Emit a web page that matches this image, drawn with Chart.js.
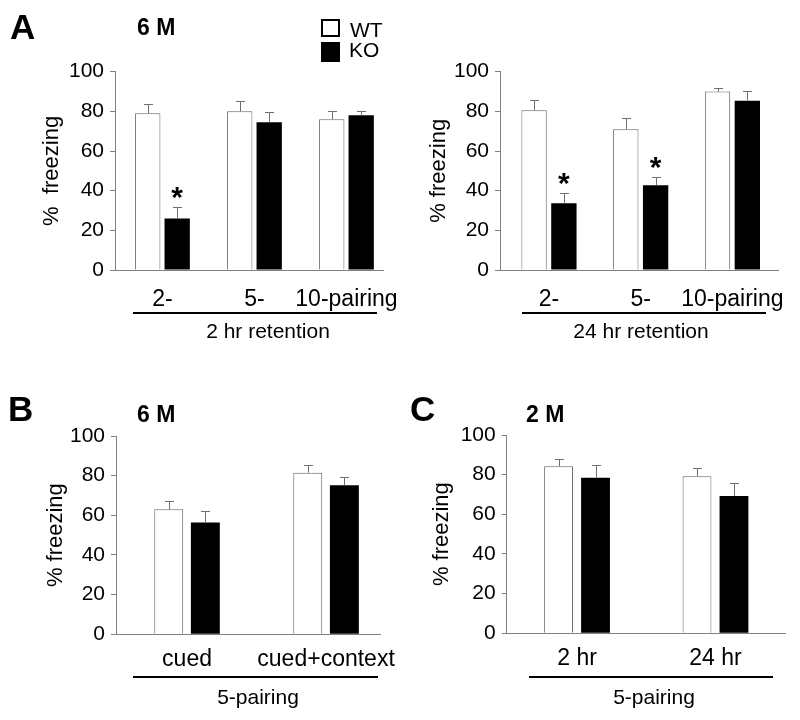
<!DOCTYPE html>
<html>
<head>
<meta charset="utf-8">
<script src="https://cdn.jsdelivr.net/npm/chart.js@4.4.0/dist/chart.umd.min.js"></script>
<style>
  body { margin: 0; background: #fff; width: 800px; height: 720px; position: relative; overflow: hidden;
         font-family: "Liberation Sans", Arial, sans-serif; color: #000; }
  canvas { position: absolute; }
  .t { position: absolute; line-height: 1; white-space: nowrap; }
  .c { transform: translateX(-50%); }
  .b { font-weight: bold; }
  .rule { position: absolute; height: 2px; background: #000; }
  .box { position: absolute; box-sizing: border-box; }
</style>
</head>
<body>
<canvas id="chartA2" width="400" height="340" style="left:0;top:0"></canvas>
<canvas id="chartA24" width="400" height="340" style="left:400px;top:0"></canvas>
<canvas id="chartB" width="400" height="360" style="left:0;top:360px"></canvas>
<canvas id="chartC" width="400" height="360" style="left:400px;top:360px"></canvas>

<!-- panel A -->
<div class="t b" style="left:10px;top:9px;font-size:35px">A</div>
<div class="t b" style="left:137px;top:15.5px;font-size:23px">6 M</div>
<div class="box" style="left:321px;top:19px;width:19px;height:18px;border:2px solid #000;background:#fff"></div>
<div class="box" style="left:321px;top:42px;width:19px;height:20px;background:#000"></div>
<div class="t" style="left:350px;top:18.5px;font-size:21px">WT</div>
<div class="t" style="left:349px;top:39px;font-size:21px">KO</div>
<div class="rule" style="left:133px;top:312px;width:244px"></div>
<div class="t c" style="left:268px;top:320px;font-size:21px">2 hr retention</div>
<div class="rule" style="left:522px;top:312px;width:244px"></div>
<div class="t c" style="left:641px;top:320px;font-size:21px">24 hr retention</div>

<!-- panel B -->
<div class="t b" style="left:8px;top:391px;font-size:35px">B</div>
<div class="t b" style="left:137px;top:402.5px;font-size:23px">6 M</div>
<div class="rule" style="left:133px;top:676px;width:245px"></div>
<div class="t c" style="left:258px;top:686px;font-size:21px">5-pairing</div>

<!-- panel C -->
<div class="t b" style="left:410px;top:391px;font-size:35px">C</div>
<div class="t b" style="left:526px;top:402.5px;font-size:23px">2 M</div>
<div class="rule" style="left:529px;top:676px;width:244px"></div>
<div class="t c" style="left:654px;top:686px;font-size:21px">5-pairing</div>

<script>
// ── Data ───────────────────────────────────────────────
const catsA = ["2-", "5-", "10-pairing"];
const wtA2 = [79, 80, 76];
const wtA2Err = [4.6, 5, 4];
const koA2 = [26, 74.5, 78];
const koA2Err = [5.8, 5.3, 2.3];
const sigA2 = [true, false, false];

const wtA24 = [80.5, 71, 90];
const wtA24Err = [5.3, 5.5, 1.8];
const koA24 = [33.7, 42.8, 85.4];
const koA24Err = [5, 4, 5];
const sigA24 = [true, true, false];

const catsB = ["cued", "cued+context"];
const wtB = [63, 81.5];
const wtBErr = [4, 3.7];
const koB = [56.4, 75.2];
const koBErr = [6, 3.9];

const catsC = ["2 hr", "24 hr"];
const wtC = [84.2, 79.2];
const wtCErr = [3.5, 4];
const koC = [78.5, 69.2];
const koCErr = [6.2, 6.7];

const yTicks = [0, 20, 40, 60, 80, 100];

Chart.defaults.font.family = '"Liberation Sans", Arial, sans-serif';
Chart.defaults.color = "#000";

const AXIS = "#808080";

// error bars (upper only) and significance stars
const errorBars = {
  id: "errorBars",
  afterDatasetsDraw(chart) {
    const { ctx, scales } = chart;
    const y = scales.y;
    ctx.save();
    chart.data.datasets.forEach((ds, di) => {
      const meta = chart.getDatasetMeta(di);
      meta.data.forEach((bar, i) => {
        const v = ds.data[i].y;
        const top = y.getPixelForValue(v + ds.errors[i]);
        const cx = Math.round(bar.x) + 0.5;
        ctx.strokeStyle = "#707070";
        ctx.lineWidth = 1;
        ctx.beginPath();
        ctx.moveTo(cx, bar.y);
        ctx.lineTo(cx, Math.round(top) + 0.5);
        ctx.moveTo(cx - 4.5, Math.round(top) + 0.5);
        ctx.lineTo(cx + 4.5, Math.round(top) + 0.5);
        ctx.stroke();
        if (ds.stars && ds.stars[i]) {
          ctx.fillStyle = "#000";
          ctx.font = 'bold 30px "Liberation Sans", Arial, sans-serif';
          ctx.textAlign = "center";
          ctx.textBaseline = "alphabetic";
          ctx.fillText("*", bar.x, top);
        }
      });
    });
    ctx.restore();
  },
};

function makePanel(id, cats, wt, wtErr, ko, koErr, sig, g) {
  const ctx = document.getElementById(id).getContext("2d");
  return new Chart(ctx, {
    type: "bar",
    data: {
      datasets: [
        {
          label: "WT",
          data: wt.map((v, i) => ({ x: i, y: v })),
          errors: wtErr,
          backgroundColor: "#fff",
          borderColor: "#666",
          borderWidth: 1,
          categoryPercentage: g.cat,
          barPercentage: g.bar,
        },
        {
          label: "KO",
          data: ko.map((v, i) => ({ x: i, y: v })),
          errors: koErr,
          stars: sig,
          backgroundColor: "#000",
          borderWidth: 0,
          categoryPercentage: g.cat,
          barPercentage: g.bar,
        },
      ],
    },
    options: {
      responsive: false,
      animation: false,
      devicePixelRatio: 1,
      layout: { padding: g.pad },
      plugins: { legend: { display: false }, tooltip: { enabled: false } },
      scales: {
        x: {
          type: "linear",
          offset: false,
          min: g.min,
          max: g.max,
          afterBuildTicks: (s) => { s.ticks = cats.map((c, i) => ({ value: i })); },
          afterFit: (s) => { s.height = g.xh; s.paddingLeft = 0; s.paddingRight = 0; },
          grid: { display: false, drawTicks: false },
          border: { display: true, color: AXIS, width: 1 },
          ticks: {
            callback: (v) => cats[v],
            font: { size: 23 },
            padding: g.tp,
            maxRotation: 0,
            autoSkip: false,
          },
        },
        y: {
          min: 0,
          max: 100,
          afterBuildTicks: (s) => { s.ticks = yTicks.map((v) => ({ value: v })); },
          afterFit: (s) => { s.width = g.yw; s.paddingTop = 0; s.paddingBottom = 0; },
          grid: { drawOnChartArea: false, drawTicks: true, tickLength: 5, color: AXIS },
          border: { display: true, color: AXIS, width: 1 },
          ticks: { font: { size: 21 }, padding: 6 },
          title: { display: true, text: g.title, font: { size: 22 }, padding: { top: 0, bottom: 0 } },
        },
      },
    },
    plugins: [errorBars],
  });
}

makePanel("chartA2", catsA, wtA2, wtA2Err, koA2, koA2Err, sigA2, {
  pad: { left: 39, top: 71.7, right: 17, bottom: 0 }, yw: 76, xh: 70,
  min: -0.516, max: 2.397, cat: 0.64, bar: 0.86, tp: 16, title: "%  freezing",
});
makePanel("chartA24", catsA, wtA24, wtA24Err, koA24, koA24Err, sigA24, {
  pad: { left: 26, top: 71.7, right: 22, bottom: 0 }, yw: 74, xh: 70,
  min: -0.534, max: 2.497, cat: 0.65, bar: 0.85, tp: 16, title: "% freezing",
});
makePanel("chartB", catsB, wtB, wtBErr, koB, koBErr, [false, false], {
  pad: { left: 43, top: 76, right: 20, bottom: 0 }, yw: 73, xh: 85.7,
  min: -0.511, max: 1.388, cat: 0.527, bar: 0.79, tp: 11.5, title: "% freezing",
});
makePanel("chartC", catsC, wtC, wtCErr, koC, koCErr, [false, false], {
  pad: { left: 29, top: 75, right: 15, bottom: 0 }, yw: 77.7, xh: 86.7,
  min: -0.508, max: 1.502, cat: 0.534, bar: 0.78, tp: 11.5, title: "% freezing",
});
</script>
</body>
</html>
